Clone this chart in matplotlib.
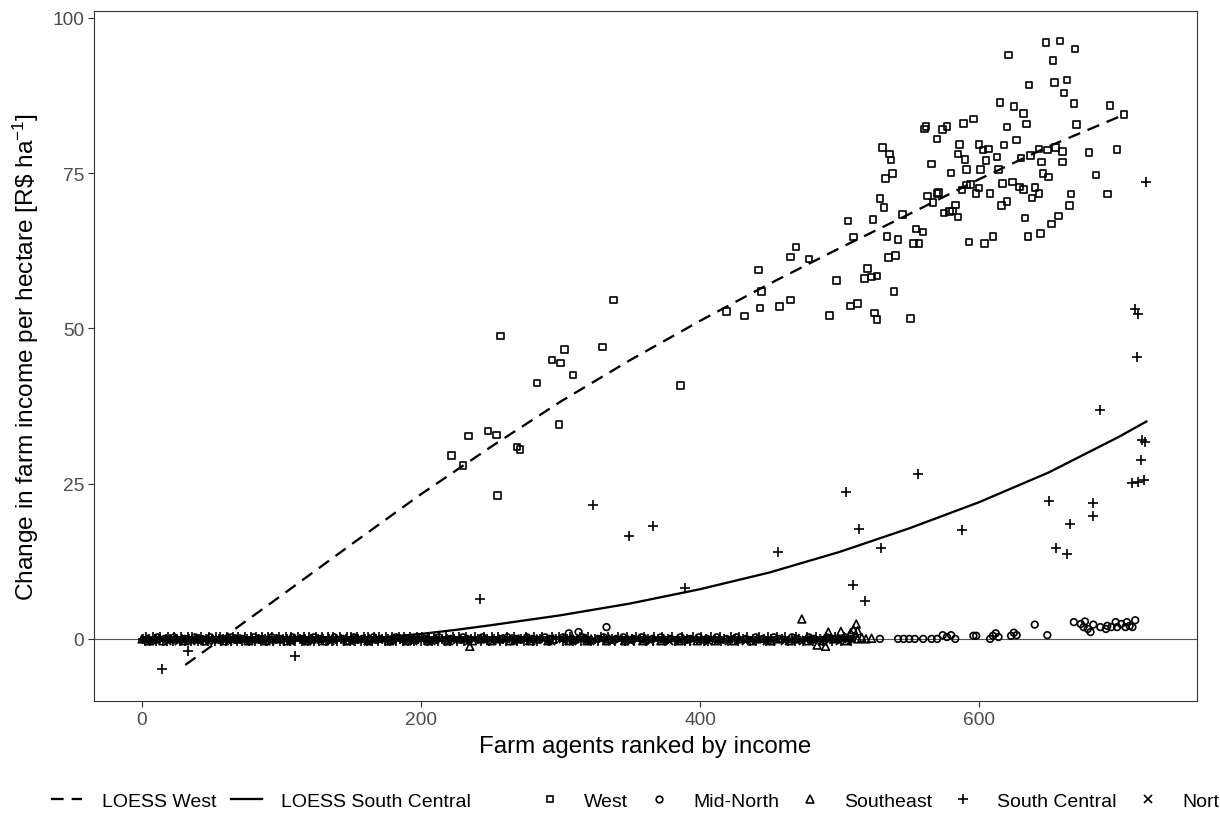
import matplotlib
matplotlib.use("Agg")
import matplotlib.pyplot as plt
from matplotlib.lines import Line2D

plt.rcParams['font.family'] = ['Liberation Sans', 'DejaVu Sans']
plt.rcParams['mathtext.fontset'] = 'custom'
plt.rcParams['mathtext.rm'] = 'Liberation Sans'
plt.rcParams['mathtext.it'] = 'Liberation Sans:italic'

# ---------------- data ----------------
west_x = [222, 230, 234, 248, 254, 255, 257, 269, 271, 283, 294, 299, 300, 303, 309, 330, 386,
          338, 419, 432, 443, 444, 442, 457, 465, 465, 469, 478,
          621, 648, 658, 669, 653, 636, 654, 663, 661, 615, 625, 632, 668, 694, 704,
          562, 561, 577, 574, 589, 596, 620, 634, 670, 570, 586, 600, 603, 607, 618, 627,
          531, 536, 537, 585, 590, 605, 613, 643, 649, 655, 660, 630, 637, 645, 660, 679, 699,
          566, 580, 591, 601, 614, 533, 538, 646, 650, 684, 591, 594, 588, 600, 598, 617, 624,
          629, 632, 640, 643, 638, 608, 563, 567, 570, 571, 529, 532, 545, 583, 575, 579, 581,
          585, 616, 620, 666, 665, 657, 652, 644, 635, 633, 692, 506, 524, 510, 534, 542, 555,
          560, 553, 557, 593, 604, 610, 535, 540, 498, 520, 518, 523, 527, 539, 493, 508, 513,
          525, 527, 551]
west_y = [29.5, 27.9, 32.7, 33.5, 32.8, 23.1, 48.8, 30.9, 30.5, 41.2, 44.9, 34.5, 44.4, 46.6, 42.5, 47.0, 40.8,
          54.6, 52.7, 52.0, 53.3, 55.9, 59.4, 53.5, 54.6, 61.5, 63.1, 61.2,
          94.0, 96.0, 96.3, 95.0, 93.1, 89.2, 89.6, 90.0, 87.9, 86.4, 85.7, 84.6, 86.2, 85.9, 84.4,
          82.5, 82.1, 82.5, 82.0, 83.0, 83.7, 82.4, 82.9, 82.8, 80.5, 79.6, 79.6, 78.7, 78.9, 79.5, 80.3,
          79.1, 78.1, 77.1, 78.1, 77.2, 77.0, 77.6, 78.9, 78.7, 79.1, 78.5, 77.4, 77.8, 76.8, 76.8, 78.3, 78.8,
          76.5, 75.0, 75.6, 75.6, 75.6, 74.1, 74.9, 74.9, 74.4, 74.7, 73.1, 73.2, 72.3, 72.6, 71.7, 73.3, 73.6,
          72.8, 72.4, 72.7, 71.7, 71.0, 71.7, 71.3, 70.3, 71.7, 71.9, 70.9, 69.5, 68.3, 69.9, 68.6, 68.8, 68.9,
          67.9, 69.8, 70.4, 71.6, 69.8, 68.1, 66.8, 65.3, 64.8, 67.8, 71.6, 67.3, 67.5, 64.7, 64.8, 64.3, 66.0,
          65.5, 63.7, 63.7, 63.9, 63.7, 64.8, 61.4, 61.7, 57.7, 59.6, 58.0, 58.3, 58.4, 55.9, 52.1, 53.6, 54.0,
          52.5, 51.4, 51.6]

sc_x = [14, 33, 110, 242, 323, 349, 366, 389, 456, 505, 510, 514, 518, 530, 556, 588,
        650, 655, 663, 665, 682, 682, 687, 710, 714, 718, 716, 717, 719, 713, 712, 714, 720]
sc_y = [-4.8, -1.9, -2.8, 6.4, 21.6, 16.6, 18.1, 8.2, 14.0, 23.7, 8.7, 17.7, 6.1, 14.6, 26.6, 17.5,
        22.2, 14.6, 13.7, 18.5, 21.9, 19.8, 36.9, 25.1, 25.3, 25.6, 28.8, 32.0, 31.7, 45.4, 53.1, 52.3, 73.5]

mn_x = [306, 313, 333, 574, 577, 580, 596, 598, 610, 612, 614, 623, 625, 627, 640, 649,
        668, 673, 676, 675, 678, 680, 682, 687, 691, 692, 695, 698, 699, 702, 705, 706, 708, 710, 712]
mn_y = [0.9, 1.1, 1.9, 0.6, 0.3, 0.6, 0.5, 0.5, 0.5, 0.9, 0.3, 0.5, 1.0, 0.6, 2.3, 0.6,
        2.7, 2.4, 2.8, 1.9, 1.6, 1.1, 2.3, 1.9, 1.6, 2.1, 1.9, 2.7, 1.9, 2.4, 1.9, 2.7, 2.1, 1.9, 3.0]

se_x = [235, 473, 484, 490, 492, 501, 508, 510, 512, 513, 516, 523]
se_y = [-1.2, 3.2, -1.0, -1.2, 1.1, 1.2, 1.0, 1.5, 2.4, 1.3, 0.2, 0.1]

# agents with (practically) no change in income, at three slightly different levels
band_mid_y = 0.0
band_low_y = -0.3
band_high_y = 0.25

sc_zero_x = [1, 5, 9, 12, 17, 20, 25, 29, 34, 38, 41, 46, 50, 55, 58, 63, 67, 70, 75, 79, 84, 88, 91,
             96, 101, 104, 109, 113, 117, 121, 126, 130, 134, 139, 143, 146, 151, 155, 160, 163, 168,
             172, 176, 181, 185, 189, 193, 198, 202, 206, 211, 215, 219, 224, 229, 236, 241, 247, 252,
             259, 265, 272, 277, 285, 290, 297, 305, 312, 318, 325, 331, 337, 344, 351, 357, 363, 370,
             377, 384, 391, 398, 404, 411, 417, 425, 431, 438, 446, 451, 459, 466, 471, 479, 486, 493,
             499, 506]
sc_zero_x2 = [3, 8, 13, 19, 23, 28, 33, 36, 42, 48, 53, 56, 61, 65, 69, 74, 78, 82, 86, 90, 93, 98,
              103, 107, 112, 116, 120, 125, 129, 133, 137, 142, 147, 150, 154, 159, 162, 166, 170, 175,
              179, 184, 188, 192, 197, 201, 205, 209, 213, 218, 223, 227, 232, 239, 245, 251, 255, 262,
              267, 275, 281, 287, 294, 299, 307, 314, 320, 329, 334, 341, 348, 354, 360, 367, 373, 380,
              387, 395, 401, 408, 414, 422, 428, 434, 442, 449, 455, 461, 469, 477, 483, 490, 497, 503,
              510]
sc_zero_x3 = [2, 6, 10, 15, 18, 22, 27, 31, 35, 40, 44, 47, 52, 57, 60, 64, 68, 72, 77, 81, 85, 89,
              94, 99, 102, 106, 110, 115, 119, 123, 127, 132, 136, 140, 145, 149, 153, 157, 161, 165,
              169, 174, 178, 182, 187, 191, 195, 200, 204, 208, 212, 217, 221, 226, 231, 234, 243, 249,
              257, 261, 269, 274, 280, 283, 292, 302, 309, 315, 322, 327, 339, 346, 353, 361, 366, 375,
              382, 389, 393, 403, 406, 415, 420, 427, 436, 440, 447, 453, 463, 468, 474, 481, 488, 495,
              501, 508]
north_zero_x = [2, 7, 14, 22, 27, 37, 44, 52, 60, 66, 73, 81, 87, 94, 102, 111, 119, 124, 132, 141,
                148, 157, 165, 174, 183, 191, 200, 208, 217, 226, 238, 249, 261, 274, 288, 301, 315,
                328, 342, 355, 368, 381, 395, 408, 421, 435, 448, 462, 475, 489, 502]
north_zero_x2 = [6, 18, 26, 35, 47, 62, 77, 92, 106, 118, 135, 149, 161, 178, 194, 207, 220, 234, 251,
                 266, 279, 293, 308, 321, 336, 350, 364, 378, 391, 406, 420, 432, 447, 460, 473, 487, 500]
mn_zero_x = [4, 16, 31, 43, 57, 72, 86, 99, 115, 128, 144, 158, 171, 187, 204, 221, 233, 246, 258,
             268, 280, 292, 303, 317, 327, 340, 352, 366, 379, 393, 405, 419, 433, 445, 457, 470, 482,
             495, 508, 529, 542, 546, 550, 554, 560, 566, 570, 583, 608]
mn_zero_x2 = [11, 23, 38, 49, 64, 80, 93, 108, 123, 138, 152, 166, 182, 197, 213, 230, 244, 262, 276,
              289, 302, 316, 331, 345, 358, 372, 386, 399, 412, 426, 440, 453, 466, 478, 491, 504]
se_zero_x = [0, 10, 24, 39, 53, 68, 83, 97, 107, 122, 137, 153, 167, 179, 195, 210, 228, 243, 256,
             270, 283, 295, 309, 322, 335, 348, 361, 374, 388, 401, 414, 428, 441, 455, 468, 480, 497,
             513, 519]
se_zero_x2 = [5, 15, 30, 45, 59, 76, 89, 104, 118, 131, 147, 162, 177, 190, 205, 219, 237, 250, 264,
              278, 291, 306, 319, 333, 346, 359, 372, 385, 398, 411, 424, 437, 451, 464, 477, 488, 505]

loess_west_x = [31, 100, 150, 200, 250, 300, 350, 400, 450, 500, 550, 600, 650, 705]
loess_west_y = [-4.2, 7.0, 15.2, 23.3, 30.9, 38.2, 44.9, 51.2, 57.2, 62.9, 68.4, 74.0, 79.3, 84.5]

loess_sc_x = [0, 50, 100, 150, 175, 200, 225, 250, 300, 350, 400, 450, 500, 550, 600, 650, 700, 720]
loess_sc_y = [-0.3, -0.35, -0.3, -0.05, 0.3, 0.8, 1.45, 2.2, 3.8, 5.7, 8.0, 10.7, 14.0, 17.8, 22.0,
              26.8, 32.5, 35.0]

x_ticks = [0, 200, 400, 600]
y_ticks = [0, 25, 50, 75, 100]
legend_lines = ["LOESS West", "LOESS South Central"]
legend_regions = ["West", "Mid-North", "Southeast", "South Central", "North"]

# ---------------- figure ----------------
W, H = 1220, 829
fig = plt.figure(figsize=(W / 100, H / 100), dpi=100)
ax = fig.add_axes([94 / W, 1 - 702 / H, (1197 - 94) / W, (702 - 12) / H])

ax.axhline(0, color='#555555', lw=0.8, zorder=1)

pt_kw = dict(facecolors='none', edgecolors='black', zorder=3)
sq_s, ci_s, tr_s, pl_s, xx_s = 22, 23, 31, 46, 27
lw_pt = 1.2


def band(xs, yv, marker, s):
    ys = [yv for _ in xs]
    if marker in ('+', 'x'):
        ax.scatter(xs, ys, marker=marker, c='black', s=s, linewidths=lw_pt, zorder=3)
    else:
        ax.scatter(xs, ys, marker=marker, s=s, linewidths=lw_pt, **pt_kw)


band(se_zero_x, band_mid_y, '^', tr_s)
band(se_zero_x2, band_low_y, '^', tr_s)
band(mn_zero_x, band_mid_y, 'o', ci_s)
band(mn_zero_x2, band_high_y, 'o', ci_s)
band(north_zero_x, band_mid_y, 'x', xx_s)
band(north_zero_x2, band_low_y, 'x', xx_s)
band(sc_zero_x, band_mid_y, '+', pl_s)
band(sc_zero_x2, band_high_y, '+', pl_s)
band(sc_zero_x3, band_low_y, '+', pl_s)

ax.scatter(west_x, west_y, marker='s', s=sq_s, linewidths=lw_pt, **pt_kw)
ax.scatter(mn_x, mn_y, marker='o', s=ci_s, linewidths=lw_pt, **pt_kw)
ax.scatter(se_x, se_y, marker='^', s=tr_s, linewidths=lw_pt, **pt_kw)
ax.scatter(sc_x, sc_y, marker='+', c='black', s=pl_s, linewidths=lw_pt, zorder=3)

dash = (0, (5.5, 3.5))
ax.plot(loess_west_x, loess_west_y, color='black', lw=1.65, ls=dash, zorder=4)
ax.plot(loess_sc_x, loess_sc_y, color='black', lw=1.65, ls='-', zorder=4)

ax.set_xlim(-34.4, 756.3)
ax.set_ylim(-10.0, 101.1)
ax.set_xticks(x_ticks)
ax.set_yticks(y_ticks)
ax.tick_params(axis='both', length=4, width=0.8, color='#333333', labelcolor='#4D4D4D',
               labelsize=13.8, pad=3)
for sp in ax.spines.values():
    sp.set_color('#333333')
    sp.set_linewidth(0.8)

ax.set_xlabel("Farm agents ranked by income", fontsize=17.4, color='black', labelpad=5)
ax.set_ylabel(r"Change in farm income per hectare [R\$ ha$^{-1}$]", fontsize=17.6, color='black', labelpad=8)

# legends
line_handles = [Line2D([], [], color='black', lw=1.65, ls=dash),
                Line2D([], [], color='black', lw=1.65, ls='-')]
fig.legend(line_handles, legend_lines, loc='center left',
           bbox_to_anchor=(51 / W, 1 - 802 / H), bbox_transform=fig.transFigure,
           ncol=2, frameon=False, fontsize=14, handlelength=1.6, handletextpad=1.0,
           columnspacing=0.75, borderpad=0, borderaxespad=0)

mk = dict(color='black', ls='none', mfc='none', mew=1.2)
pt_handles = [Line2D([], [], marker='s', ms=4.7, **mk),
              Line2D([], [], marker='o', ms=4.8, **mk),
              Line2D([], [], marker='^', ms=5.6, **mk),
              Line2D([], [], marker='+', ms=6.8, **mk),
              Line2D([], [], marker='x', ms=5.2, **mk)]
fig.legend(pt_handles, legend_regions, loc='center left',
           bbox_to_anchor=(540 / W, 1 - 802 / H), bbox_transform=fig.transFigure,
           ncol=5, frameon=False, fontsize=14, handlelength=1.0, handletextpad=1.25,
           columnspacing=1.1, borderpad=0, borderaxespad=0)

fig.savefig("out.png", dpi=100, facecolor='white')
